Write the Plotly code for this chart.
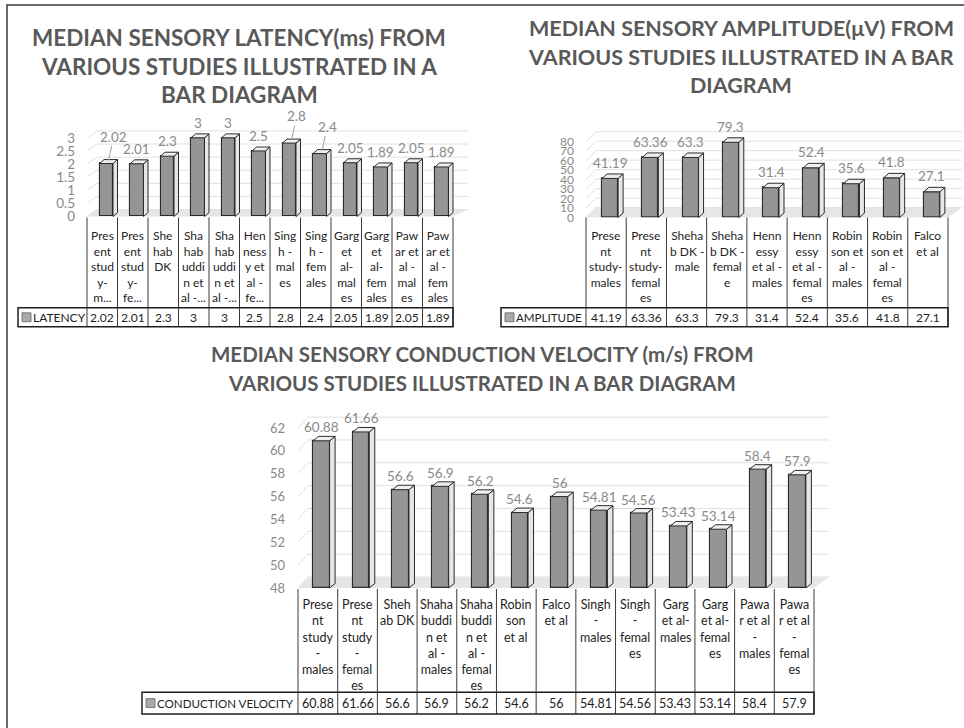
import plotly.graph_objects as go

W, H = 964, 728
FONT = "Lato"

# ---------------- data ----------------
LATENCY_NAME = "LATENCY"
LATENCY_CATS = [
    "Pres<br>ent<br>stud<br>y-<br>m...", "Pres<br>ent<br>stud<br>y-<br>fe...",
    "She<br>hab<br>DK", "Sha<br>hab<br>uddi<br>n et<br>al -...",
    "Sha<br>hab<br>uddi<br>n et<br>al -...", "Hen<br>ness<br>y et<br>al -<br>fe...",
    "Sing<br>h -<br>mal<br>es", "Sing<br>h -<br>fem<br>ales",
    "Garg<br>et<br>al-<br>mal<br>es", "Garg<br>et<br>al-<br>fem<br>ales",
    "Paw<br>ar et<br>al -<br>mal<br>es", "Paw<br>ar et<br>al -<br>fem<br>ales",
]
LATENCY = [2.02, 2.01, 2.3, 3, 3, 2.5, 2.8, 2.4, 2.05, 1.89, 2.05, 1.89]
LATENCY_TICKS = [0, 0.5, 1, 1.5, 2, 2.5, 3]
LATENCY_TITLE = ["MEDIAN SENSORY LATENCY(ms) FROM",
                 "VARIOUS STUDIES ILLUSTRATED IN A",
                 "BAR DIAGRAM"]

AMPLITUDE_NAME = "AMPLITUDE"
AMPLITUDE_CATS = [
    "Prese<br>nt<br>study-<br>males", "Prese<br>nt<br>study-<br>femal<br>es",
    "Sheha<br>b DK -<br>male", "Sheha<br>b DK -<br>femal<br>e",
    "Henn<br>essy<br>et al -<br>males", "Henn<br>essy<br>et al -<br>femal<br>es",
    "Robin<br>son et<br>al -<br>males", "Robin<br>son et<br>al -<br>femal<br>es",
    "Falco<br>et al",
]
AMPLITUDE = [41.19, 63.36, 63.3, 79.3, 31.4, 52.4, 35.6, 41.8, 27.1]
AMPLITUDE_TICKS = [0, 10, 20, 30, 40, 50, 60, 70, 80]
AMPLITUDE_TITLE = ["MEDIAN SENSORY AMPLITUDE(\u03bcV) FROM",
                   "VARIOUS STUDIES ILLUSTRATED IN A BAR",
                   "DIAGRAM"]

VELOCITY_NAME = "CONDUCTION VELOCITY"
VELOCITY_CATS = [
    "Prese<br>nt<br>study<br>-<br>males", "Prese<br>nt<br>study<br>-<br>femal<br>es",
    "Sheh<br>ab DK", "Shaha<br>buddi<br>n et<br>al -<br>males",
    "Shaha<br>buddi<br>n et<br>al -<br>femal<br>es", "Robin<br>son<br>et al",
    "Falco<br>et al", "Singh<br>-<br>males", "Singh<br>-<br>femal<br>es",
    "Garg<br>et al-<br>males", "Garg<br>et al-<br>femal<br>es",
    "Pawa<br>r et al<br>-<br>males", "Pawa<br>r et al<br>-<br>femal<br>es",
]
VELOCITY = [60.88, 61.66, 56.6, 56.9, 56.2, 54.6, 56, 54.81, 54.56, 53.43, 53.14, 58.4, 57.9]
VELOCITY_TICKS = [48, 50, 52, 54, 56, 58, 60, 62]
VELOCITY_TITLE = ["MEDIAN SENSORY CONDUCTION VELOCITY (m/s) FROM",
                  "VARIOUS STUDIES ILLUSTRATED IN A BAR DIAGRAM"]

# ---------------- panel geometry (pixels) ----------------
GEOM = {
    1: dict(col_left=87, col_right=453, ext=15, y0=218, scale=26.4, vmin=0, vmax=3.45,
            pad=3, standoff=11, tick_size=13.5, bar_px=13.5, shift=4, depth_x=4.5,
            depth_y=4, wall_dx=10, wall_dy=7, label_gap=1, cat_top=219, text_top=228,
            row_top=310, row_bottom=329, legend_left=18, table_size=12, name_size=12,
            title_x=239, title_y=[38, 67, 95], title_size=22.5, leaders=[0, 6, 7],
            lead_ay=-25),
    2: dict(col_left=586, col_right=948, ext=14, y0=219, scale=0.955, vmin=0, vmax=92,
            pad=3, standoff=11, tick_size=12, bar_px=16, shift=4, depth_x=5,
            depth_y=4.5, wall_dx=10, wall_dy=10, label_gap=1, cat_top=219, text_top=228,
            row_top=310, row_bottom=329, legend_left=501, table_size=12, name_size=11.6,
            title_x=741, title_y=[28, 57, 86], title_size=21.5, leaders=[], lead_ay=0),
    3: dict(col_left=298, col_right=814, ext=15, y0=592, scale=11.5, vmin=48, vmax=63.5,
            pad=3, standoff=12, tick_size=13, bar_px=16.5, shift=3.5, depth_x=5.5,
            depth_y=4.5, wall_dx=10, wall_dy=11, label_gap=-1, cat_top=593, text_top=599,
            row_top=697, row_bottom=719, legend_left=142, table_size=12.5, name_size=11.6,
            title_x=482, title_y=[356, 386], title_size=20.5, leaders=[], lead_ay=0),
}

GRID = "#e0e0e0"
FLOOR = "#e6e6e6"
FRONT = "#959595"
SIDE = "#e6e6e6"
TOP = "#efefef"
EDGE = "#2b2b2b"
LABEL = "#8a8a8a"
TITLE = "#595959"
TABLE_TXT = "#1e1e1e"


def fx(p):
    return p / W


def fy(p):
    return 1 - p / H


fig = go.Figure()
shapes = []
annotations = []
axes = {}


def add_panel(k, cats, values, ticks, name, title, g):
    n = len(values)
    xa = "x" if k == 1 else f"x{k}"
    ya = "y" if k == 1 else f"y{k}"
    col_px = (g["col_right"] - g["col_left"]) / n
    ext = g["ext"] / col_px
    vmin, vmax, scale = g["vmin"], g["vmax"], g["scale"]
    axes["xaxis" if k == 1 else f"xaxis{k}"] = dict(
        domain=[fx(g["col_left"]), fx(g["col_right"] + g["ext"])],
        range=[-0.5, n - 0.5 + ext], visible=False, anchor=ya, fixedrange=True)
    axes["yaxis" if k == 1 else f"yaxis{k}"] = dict(
        domain=[fy(g["y0"] + g["pad"]), fy(g["y0"] - (vmax - vmin) * scale)],
        range=[vmin - g["pad"] / scale, vmax], anchor=xa,
        tickmode="array", tickvals=ticks, ticktext=[f"{t:g}" for t in ticks],
        showgrid=False, zeroline=False, showline=False, ticks="",
        ticklabelstandoff=g["standoff"], fixedrange=True,
        tickfont=dict(family=FONT, size=g["tick_size"], color=LABEL))

    wdx = g["wall_dx"] / col_px
    wdy = g["wall_dy"] / scale
    right = n - 0.5 + ext
    # back-wall gridlines, bending along the side wall
    for t in ticks:
        shapes.append(dict(type="path", xref=xa, yref=ya, layer="below",
                           path=f"M{-0.5},{t} L{-0.5 + wdx},{t + wdy} L{right},{t + wdy}",
                           line=dict(color=GRID, width=1)))
    # floor
    shapes.append(dict(type="path", xref=xa, yref=ya, layer="below",
                       path=(f"M{-0.5},{vmin} L{n - 0.5},{vmin} L{right},{vmin + wdy} "
                             f"L{-0.5 + wdx},{vmin + wdy} Z"),
                       fillcolor=FLOOR, line=dict(width=0)))

    # front faces of the columns
    w = g["bar_px"] / col_px
    sh = g["shift"] / col_px
    ddx = g["depth_x"] / col_px
    ddy = g["depth_y"] / scale
    fig.add_trace(go.Bar(
        x=list(range(n)), y=[v - vmin for v in values], base=vmin,
        width=w, offset=-w / 2 + sh, xaxis=xa, yaxis=ya, name=name,
        marker=dict(color=FRONT, line=dict(color=EDGE, width=1.1)),
        showlegend=False, hoverinfo="skip"))

    # side and top faces of the columns
    for i, v in enumerate(values):
        xl = i - w / 2 + sh
        xr = i + w / 2 + sh
        shapes.append(dict(type="path", xref=xa, yref=ya, layer="above",
                           path=(f"M{xr},{vmin} L{xr + ddx},{vmin + ddy} "
                                 f"L{xr + ddx},{v + ddy} L{xr},{v} Z"),
                           fillcolor=SIDE, line=dict(color=EDGE, width=1)))
        shapes.append(dict(type="path", xref=xa, yref=ya, layer="above",
                           path=(f"M{xl},{v} L{xr},{v} L{xr + ddx},{v + ddy} "
                                 f"L{xl + ddx},{v + ddy} Z"),
                           fillcolor=TOP, line=dict(color=EDGE, width=1)))

    # data labels
    lab_font = dict(family=FONT, size=13.5, color=LABEL)
    for i, v in enumerate(values):
        xc = i + sh
        if i in g["leaders"]:
            annotations.append(dict(
                x=xc + ddx / 2, y=v + ddy / 2, xref=xa, yref=ya, text=f"{v:g}",
                showarrow=True, arrowhead=0, arrowwidth=1, arrowcolor="#a0a0a0",
                ax=5, ay=g["lead_ay"], standoff=1, font=lab_font))
        else:
            annotations.append(dict(
                x=xc, y=v, xref=xa, yref=ya, text=f"{v:g}", showarrow=False,
                yanchor="bottom", yshift=g["label_gap"] + g["depth_y"], font=lab_font))

    # data table under the axis
    tfont = dict(family=FONT, size=g["table_size"], color=TABLE_TXT)
    for j in range(n + 1):
        xp = g["col_left"] + j * col_px
        shapes.append(dict(type="line", xref="paper", yref="paper",
                           x0=fx(xp), x1=fx(xp), y0=fy(g["cat_top"]), y1=fy(g["row_bottom"]),
                           line=dict(color="#3a3a3a", width=1)))
    shapes.append(dict(type="rect", xref="paper", yref="paper",
                       x0=fx(g["legend_left"]), x1=fx(g["col_right"]),
                       y0=fy(g["row_top"]), y1=fy(g["row_bottom"]),
                       line=dict(color="#1e1e1e", width=1.5)))
    row_mid = (g["row_top"] + g["row_bottom"]) / 2
    for i, (c, v) in enumerate(zip(cats, values)):
        xc = g["col_left"] + (i + 0.5) * col_px
        annotations.append(dict(x=fx(xc), y=fy(g["text_top"]), xref="paper", yref="paper",
                                text=c, showarrow=False, xanchor="center", yanchor="top",
                                align="center", font=tfont))
        annotations.append(dict(x=fx(xc), y=fy(row_mid), xref="paper", yref="paper",
                                text=f"{v:g}", showarrow=False, xanchor="center",
                                yanchor="middle", font=tfont))
    # legend key and series name
    kx = g["legend_left"] + 4
    shapes.append(dict(type="rect", xref="paper", yref="paper",
                       x0=fx(kx), x1=fx(kx + 9), y0=fy(row_mid - 4.5), y1=fy(row_mid + 4.5),
                       fillcolor="#a9a9a9", line=dict(color="#7a7a7a", width=1)))
    annotations.append(dict(x=fx(kx + 9), y=fy(row_mid), xref="paper", yref="paper",
                            text=name, showarrow=False, xanchor="left", yanchor="middle",
                            font=dict(family=FONT, size=g["name_size"], color=TABLE_TXT)))

    # chart title
    for line, ty in zip(title, g["title_y"]):
        annotations.append(dict(x=fx(g["title_x"]), y=fy(ty), xref="paper", yref="paper",
                                text=f"<b>{line}</b>", showarrow=False, xanchor="center",
                                yanchor="middle",
                                font=dict(family=FONT, size=g["title_size"], color=TITLE)))


add_panel(1, LATENCY_CATS, LATENCY, LATENCY_TICKS, LATENCY_NAME, LATENCY_TITLE, GEOM[1])
add_panel(2, AMPLITUDE_CATS, AMPLITUDE, AMPLITUDE_TICKS, AMPLITUDE_NAME, AMPLITUDE_TITLE, GEOM[2])
add_panel(3, VELOCITY_CATS, VELOCITY, VELOCITY_TICKS, VELOCITY_NAME, VELOCITY_TITLE, GEOM[3])

# outer frame of the figure
shapes.append(dict(type="rect", xref="paper", yref="paper",
                   x0=fx(7), x1=fx(W + 10), y0=fy(5), y1=fy(H + 10),
                   line=dict(color="#3a3a3a", width=1.5)))

fig.update_layout(
    width=W, height=H, margin=dict(l=0, r=0, t=0, b=0),
    paper_bgcolor="white", plot_bgcolor="rgba(0,0,0,0)",
    bargap=0, showlegend=False,
    shapes=shapes, annotations=annotations, **axes,
)

fig.write_html("out.html")
